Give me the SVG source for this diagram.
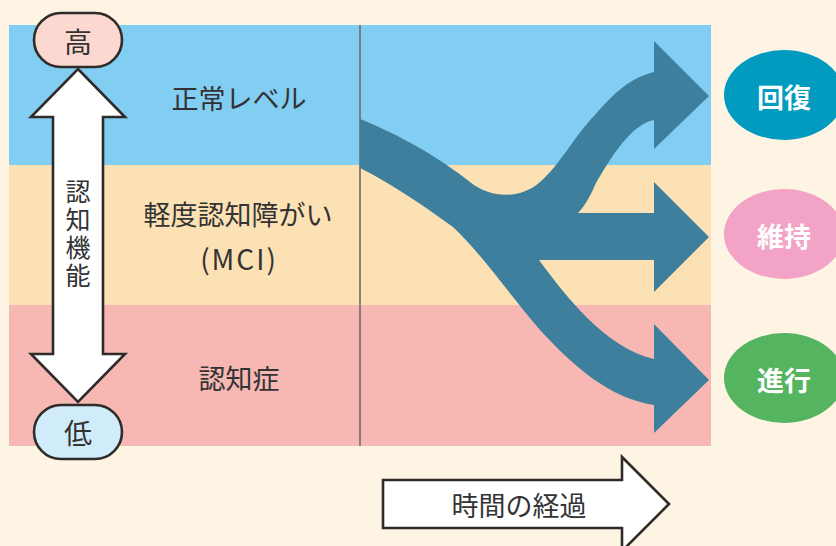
<svg xmlns="http://www.w3.org/2000/svg" width="836" height="546" viewBox="0 0 836 546">
<style>
.lbl{font-family:"Noto Sans CJK JP","Noto Sans",sans-serif;fill:#333;text-anchor:middle;dominant-baseline:central}
.res{font-family:"Noto Sans CJK JP","Noto Sans",sans-serif;fill:#fff;font-weight:bold;text-anchor:middle;dominant-baseline:central;font-size:27px}
.out{stroke:#2e2b29;stroke-width:2.6;stroke-linejoin:miter}
</style>
<rect width="836" height="546" fill="#FEF4E3"/>
<g id="bands">
<rect x="9" y="25" width="702" height="140" fill="#82CEF2"/>
<rect x="9" y="165" width="702" height="140" fill="#FCE1B4"/>
<rect x="9" y="305" width="702" height="141" fill="#F7B8B3"/>
<line x1="360" y1="25" x2="360" y2="446" stroke="#6e6a68" stroke-width="1.6"/>
</g>
<g id="levels">
<text class="lbl" x="239" y="97" font-size="27">正常レベル</text>
<text class="lbl" x="238" y="213" font-size="27">軽度認知障がい</text>
<text class="lbl" x="239" y="258" font-size="28" letter-spacing="2">(MCI)</text>
<text class="lbl" x="239" y="377" font-size="27">認知症</text>
</g>
<g id="axis">
<path class="out" fill="#fff" d="M78,69 L125,117 L103,117 L103,354 L125,354 L78,402 L31,354 L53,354 L53,117 L31,117 Z"/>
<text class="lbl" x="78" y="235" font-size="25" writing-mode="vertical-rl" letter-spacing="3">認知機能</text>
</g>
<g id="high">
<rect class="out" x="34" y="13" width="88" height="54" rx="27" fill="#FDD8D0"/>
<text class="lbl" x="78" y="41" font-size="28">高</text>
</g>
<g id="low">
<rect class="out" x="34" y="405" width="88" height="54" rx="27" fill="#D0ECFA"/>
<text class="lbl" x="78" y="432" font-size="28">低</text>
</g>
<g id="connectors">
<path fill="#3D7F9C" d="M360,119 C400,135 440,158 470,182 C490,198 520,200 540,182 C560,165 575,135 595,115 C615,92 630,78 654,72 L654,41 L709,96 L654,149 L654,120 C632,124 612,155 595,185 C590,197 584,207 578,213 L654,213 L654,182 L709,237 L654,292 L654,260 L539,260 C565,295 605,348 654,359 L654,324 L709,380 L654,433 L654,405 C610,398 575,368 540,330 C510,295 480,252 453,227 C420,203 390,183 360,168 Z"/>
</g>
<g id="recovery">
<ellipse cx="784" cy="95" rx="60" ry="45" fill="#009BBF"/>
<text class="res" x="784" y="96">回復</text>
</g>
<g id="maintain">
<ellipse cx="784" cy="234" rx="60" ry="45" fill="#F2A3C6"/>
<text class="res" x="784" y="235">維持</text>
</g>
<g id="progress">
<ellipse cx="784" cy="378" rx="60" ry="45" fill="#55B45F"/>
<text class="res" x="784" y="379">進行</text>
</g>
<g id="time">
<path class="out" fill="#fff" d="M383,480 L622,480 L622,457 L669,504 L622,551 L622,528 L383,528 Z"/>
<text class="lbl" x="519" y="504" font-size="27">時間の経過</text>
</g>
</svg>
